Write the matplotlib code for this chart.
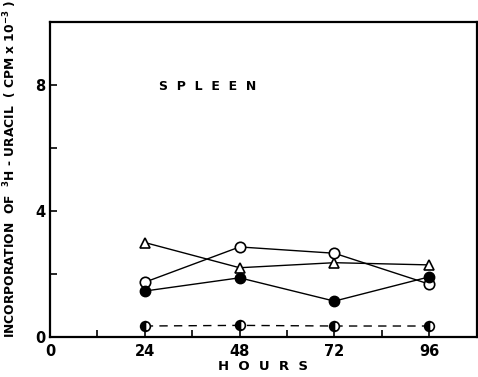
import matplotlib
matplotlib.use("Agg")
import matplotlib.pyplot as plt
from matplotlib.ticker import MultipleLocator

# values
hours = [24, 48, 72, 96]
triangle_open = [3.0, 2.2, 2.36, 2.29]
circle_open = [1.74, 2.86, 2.66, 1.68]
circle_filled = [1.46, 1.88, 1.14, 1.91]
circle_half = [0.35, 0.37, 0.35, 0.35]

x_ticks = [0, 24, 48, 72, 96]
y_ticks = [0, 4, 8]

fig = plt.figure(figsize=(4.78, 3.77), dpi=100)
ax = fig.add_axes([0.1046, 0.106, 0.8924, 0.8356])

lw = 1.0
ax.plot(hours, triangle_open, '-', color='black', lw=lw, marker='^', ms=7.5,
        mfc='white', mec='black', mew=1.2, zorder=3)
ax.plot(hours, circle_open, '-', color='black', lw=lw, marker='o', ms=7.5,
        mfc='white', mec='black', mew=1.2, zorder=3)
ax.plot(hours, circle_filled, '-', color='black', lw=lw, marker='o', ms=7.5,
        mfc='black', mec='black', zorder=3)
ax.plot(hours, circle_half, '--', color='black', lw=lw, dashes=(6, 4.5), marker='o', ms=7,
        fillstyle='left', mfc='black', mfcalt='white', mec='black', mew=1.2, zorder=3)

ax.set_xlim(0, 108)
ax.set_ylim(0, 10)
ax.set_xticks(x_ticks)
ax.set_yticks(y_ticks)
ax.xaxis.set_minor_locator(MultipleLocator(12))
ax.yaxis.set_minor_locator(MultipleLocator(2))
ax.tick_params(which='both', direction='in', length=5, width=1.2)
ax.tick_params(axis='x', labelsize=10.5, pad=5)
ax.tick_params(axis='y', labelsize=10.5, pad=3)
for lab in ax.get_xticklabels() + ax.get_yticklabels():
    lab.set_fontweight('bold')
for s in ax.spines.values():
    s.set_linewidth(1.6)

ax.set_xlabel('H  O  U  R  S', fontsize=9.5, fontweight='bold', labelpad=1)
ax.set_ylabel(r'INCORPORATION  OF  $\mathbf{^3}$H - URACIL  ( CPM x 10$\mathbf{^{-3}}$ )',
              fontsize=8.8, fontweight='bold')
ax.yaxis.set_label_coords(-0.072, 0.535)
ax.text(0.255, 0.795, 'S  P  L  E  E  N', transform=ax.transAxes,
        fontsize=9, fontweight='bold', ha='left', va='center')

fig.savefig('out.png', dpi=100)
